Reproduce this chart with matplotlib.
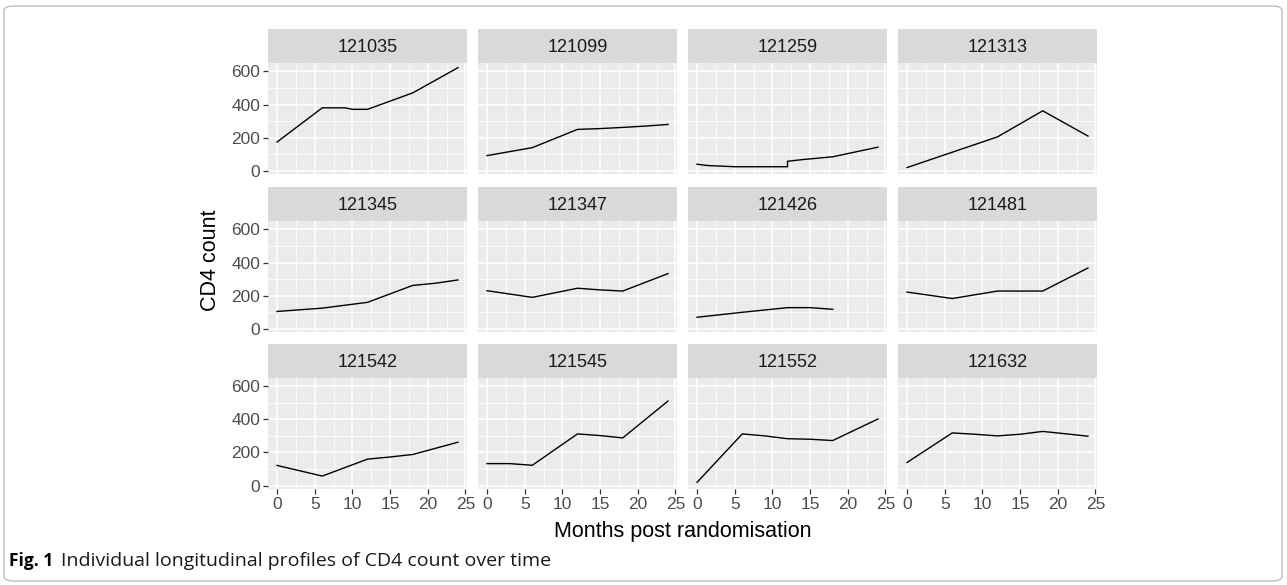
import numpy as np
import matplotlib
matplotlib.use("Agg")
import matplotlib.pyplot as plt
from matplotlib.patches import FancyBboxPatch
from matplotlib.ticker import MultipleLocator

plt.rcParams["font.family"] = ["Liberation Sans", "DejaVu Sans"]

# patient ids, one facet each
ids = ["121035", "121099", "121259", "121313",
       "121345", "121347", "121426", "121481",
       "121542", "121545", "121552", "121632"]

# months post randomisation and CD4 count per patient
months = {
    "121035": [0, 6, 9, 10, 12, 18, 24],
    "121099": [0, 6, 12, 15, 18, 21, 24],
    "121259": [0, 1.5, 5, 12, 12, 14, 18, 24],
    "121313": [0, 12, 18, 24],
    "121345": [0, 6, 12, 18, 21, 24],
    "121347": [0, 6, 12, 15, 18, 24],
    "121426": [0, 6, 12, 15, 18],
    "121481": [0, 6, 12, 18, 24],
    "121542": [0, 6, 12, 15, 18, 24],
    "121545": [0, 3, 6, 12, 15, 18, 24],
    "121552": [0, 6, 9, 12, 15, 18, 24],
    "121632": [0, 6, 9, 12, 15, 18, 21, 24],
}
cd4 = {
    "121035": [174, 380, 380, 371, 371, 470, 622],
    "121099": [92, 140, 250, 255, 262, 270, 280],
    "121259": [40, 32, 25, 25, 58, 68, 85, 143],
    "121313": [20, 205, 362, 210],
    "121345": [105, 125, 160, 262, 275, 295],
    "121347": [230, 190, 245, 235, 228, 333],
    "121426": [70, 100, 128, 128, 118],
    "121481": [222, 183, 228, 228, 367],
    "121542": [122, 58, 160, 173, 188, 262],
    "121545": [133, 133, 123, 312, 302, 288, 510],
    "121552": [20, 312, 300, 283, 280, 272, 402],
    "121632": [140, 318, 310, 300, 310, 327, 313, 298],
}

W, H = 1287, 585
fig = plt.figure(figsize=(W / 100, H / 100), dpi=100)

# outer rounded frame
fig.patches.append(FancyBboxPatch((4 / W, 4 / H), 1 - 9 / W, 1 - 10 / H,
                                  boxstyle="round,pad=0,rounding_size=0.008",
                                  transform=fig.transFigure, fc="white",
                                  ec="#b0b0b0", lw=0.8, zorder=-10))

col_left = [268, 478, 688, 898]
pan_w = 199
pan_top = [62.7, 220.7, 377.5]
pan_h = 111.5
strip_h = 33.5

grey_txt = "#4D4D4D"

for i, pid in enumerate(ids):
    r, c = divmod(i, 4)
    x0 = col_left[c]
    y_top = pan_top[r]
    ax = fig.add_axes([x0 / W, 1 - (y_top + pan_h) / H, pan_w / W, pan_h / H])
    ax.set_facecolor("#EBEBEB")
    ax.plot(months[pid], cd4[pid], color="black", lw=1.0)
    ax.set_xlim(-1.2, 25.2)
    ax.set_ylim(-20, 652)
    ax.xaxis.set_major_locator(MultipleLocator(5))
    ax.xaxis.set_minor_locator(MultipleLocator(2.5))
    ax.yaxis.set_major_locator(MultipleLocator(200))
    ax.yaxis.set_minor_locator(MultipleLocator(100))
    ax.grid(which="major", color="white", lw=1.1)
    ax.grid(which="minor", color="white", lw=0.55)
    ax.set_axisbelow(True)
    for s in ax.spines.values():
        s.set_visible(False)
    ax.tick_params(which="minor", length=0)
    ax.tick_params(which="major", length=3.5, width=0.9, color="#333333",
                   labelsize=12.5, labelcolor=grey_txt, pad=2)
    if c != 0:
        ax.tick_params(axis="y", left=False, labelleft=False)
    if r != 2:
        ax.tick_params(axis="x", bottom=False, labelbottom=False)

    # facet strip
    sax = fig.add_axes([x0 / W, 1 - y_top / H, pan_w / W, strip_h / H])
    sax.set_facecolor("#D9D9D9")
    sax.set_xticks([])
    sax.set_yticks([])
    for s in sax.spines.values():
        s.set_visible(False)
    sax.text(0.5, 0.45, pid, ha="center", va="center", fontsize=13,
             color="#1A1A1A", transform=sax.transAxes)

fig.text(683 / W, 1 - 532 / H, "Months post randomisation", ha="center",
         va="center", fontsize=15.5, color="black")
fig.text(210 / W, 1 - 260 / H, "CD4 count", ha="center", va="center",
         rotation=90, fontsize=15.5, color="black")

# caption
fig.text(9 / W, 1 - 561 / H, "Fig. 1", fontsize=12.5, fontweight="bold",
         family=["Open Sans", "DejaVu Sans"], va="center", ha="left")
fig.text(61 / W, 1 - 561 / H, "Individual longitudinal profiles of CD4 count over time",
         fontsize=14, family=["Open Sans", "DejaVu Sans"], va="center", ha="left",
         color="#1a1a1a")

fig.savefig("out.png", dpi=100)
